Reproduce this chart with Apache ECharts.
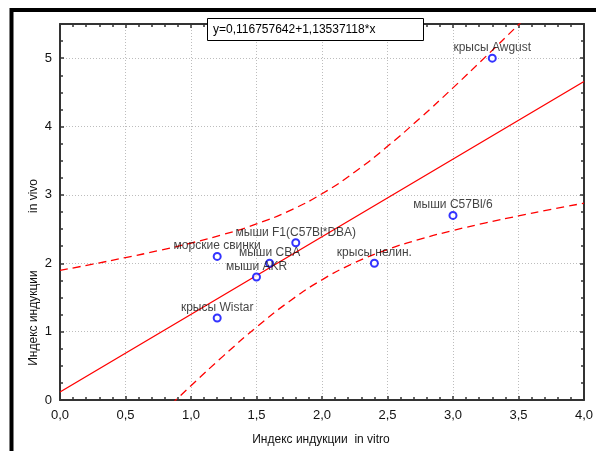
<!DOCTYPE html>
<html>
<head>
<meta charset="utf-8">
<script src="https://cdn.jsdelivr.net/npm/echarts@6/dist/echarts.min.js"></script>
<style>
html,body{margin:0;padding:0;background:#fff;}
#chart{width:596px;height:451px;}
</style>
</head>
<body>
<div id="chart"></div>
<script>
// точки: индекс индукции in vitro / in vivo
var pointNames = ['крысы Wistar', 'морские свинки', 'мыши AKR', 'мыши CBA', 'мыши F1(C57Bl*DBA)', 'крысы нелин.', 'мыши C57Bl/6', 'крысы Awgust'];
var pointX = [1.2, 1.2, 1.5, 1.6, 1.8, 2.4, 3.0, 3.3];
var pointY = [1.2, 2.1, 1.8, 2.0, 2.3, 2.0, 2.7, 5.0];

// линия регрессии y=0,116757642+1,13537118*x
var fitX = [0, 4];
var fitY = [0.1168, 4.6582];

// доверительные границы (пунктир)
var bandX = [0, 0.25, 0.5, 0.75, 1.0, 1.25, 1.5, 1.75, 2.0, 2.25, 2.5, 2.75, 3.0, 3.25, 3.5, 3.75, 4.0];
var upperY = [1.896, 1.987, 2.083, 2.184, 2.296, 2.423, 2.575, 2.767, 3.017, 3.335, 3.710, 4.126, 4.566, 5.023, 5.489, 5.961, 6.438];
var lowerY = [-1.663, -1.186, -0.714, -0.248, 0.209, 0.649, 1.065, 1.441, 1.758, 2.008, 2.201, 2.353, 2.479, 2.591, 2.693, 2.788, 2.879];

var xTitle = 'Индекс индукции  in vitro';
var yTitleA = 'Индекс индукции';
var yTitleB = 'in vivo';
var equation = 'y=0,116757642+1,13537118*x';

function pairs(xs, ys) {
    var out = [];
    for (var i = 0; i < xs.length; i++) out.push([xs[i], ys[i]]);
    return out;
}

var chart = echarts.init(document.getElementById('chart'));

var font = 'Arial, "Liberation Sans", sans-serif';
var axisColor = '#333';
var textColor = '#111';
var gridLine = {show: true, lineStyle: {color: '#bdbdbd', width: 1, type: [1, 2]}};

var scatterData = [];
for (var i = 0; i < pointX.length; i++) {
    scatterData.push({name: pointNames[i], value: [pointX[i], pointY[i]]});
}

function axisBase(pos, showLabel, minorSplit) {
    return {
        type: 'value',
        position: pos,
        axisLine: {show: true, onZero: false, lineStyle: {color: axisColor, width: 2}},
        axisTick: {show: true, inside: true, length: 4, lineStyle: {color: axisColor, width: 1.5}},
        minorTick: {show: true, splitNumber: minorSplit, length: 3, lineStyle: {color: axisColor, width: 1.5}},
        minorSplitLine: {show: false},
        axisLabel: {show: showLabel},
        splitLine: {show: false}
    };
}

var xBottom = axisBase('bottom', true, 5);
xBottom.min = 0; xBottom.max = 4; xBottom.interval = 0.5;
xBottom.splitLine = gridLine;
xBottom.axisLabel = {
    show: true, margin: 9, fontSize: 13, color: textColor, fontFamily: font,
    formatter: function(v) { return v.toFixed(1).replace('.', ','); }
};
var xTop = axisBase('top', false, 5);
xTop.min = 0; xTop.max = 4; xTop.interval = 0.5;

var yLeft = axisBase('left', true, 4);
yLeft.min = 0; yLeft.max = 5.5; yLeft.interval = 1;
yLeft.splitLine = gridLine;
yLeft.axisLabel = {
    show: true, margin: 8, fontSize: 13, color: textColor, fontFamily: font,
    formatter: function(v) { return (v % 1 === 0) ? String(v) : ''; }
};
var yRight = axisBase('right', false, 4);
yRight.min = 0; yRight.max = 5.5; yRight.interval = 1;

var option = {
    backgroundColor: '#fff',
    animation: false,
    grid: {left: 60, top: 24, right: 10, bottom: 51, containLabel: false},
    xAxis: [xBottom, xTop],
    yAxis: [yLeft, yRight],
    series: [
        {
            name: 'upper', type: 'line', smooth: true, symbol: 'none', clip: true,
            data: pairs(bandX, upperY),
            lineStyle: {color: '#ff0000', width: 1.3, type: [8, 5]}, z: 3
        },
        {
            name: 'lower', type: 'line', smooth: true, symbol: 'none', clip: true,
            data: pairs(bandX, lowerY),
            lineStyle: {color: '#ff0000', width: 1.3, type: [8, 5]}, z: 3
        },
        {
            name: 'fit', type: 'line', symbol: 'none', clip: true,
            data: pairs(fitX, fitY),
            lineStyle: {color: '#ff0000', width: 1.3}, z: 3
        },
        {
            name: 'points', type: 'scatter', symbol: 'emptyCircle', symbolSize: 7,
            data: scatterData,
            itemStyle: {color: '#0000ff', borderColor: '#0000ff', borderWidth: 1.5},
            label: {
                show: true, position: 'top', distance: 0,
                formatter: '{b}', fontSize: 12, color: textColor, fontFamily: font
            },
            z: 5
        }
    ],
    graphic: [
        // внешняя рамка
        {type: 'rect', shape: {x: 11.5, y: 10, width: 640, height: 480},
         style: {fill: null, stroke: '#000', lineWidth: 4}, silent: true, z: 100},
        // подпись уравнения
        {type: 'rect', shape: {x: 207.5, y: 18.5, width: 216, height: 22},
         style: {fill: '#fff', stroke: '#000', lineWidth: 1}, z: 100},
        {type: 'text', x: 213, y: 30,
         style: {text: equation, fill: '#000', font: '12px ' + font, verticalAlign: 'middle'}, z: 101},
        // заголовки осей
        {type: 'text', x: 321, y: 440,
         style: {text: xTitle, fill: textColor, font: '12px ' + font, align: 'center', verticalAlign: 'middle'}, z: 101},
        {type: 'text', x: 34, y: 318, rotation: Math.PI / 2,
         style: {text: yTitleA, fill: textColor, font: '12px ' + font, align: 'center', verticalAlign: 'middle'}, z: 101},
        {type: 'text', x: 34, y: 196, rotation: Math.PI / 2,
         style: {text: yTitleB, fill: textColor, font: '12px ' + font, align: 'center', verticalAlign: 'middle'}, z: 101}
    ]
};

chart.setOption(option);
</script>
</body>
</html>
